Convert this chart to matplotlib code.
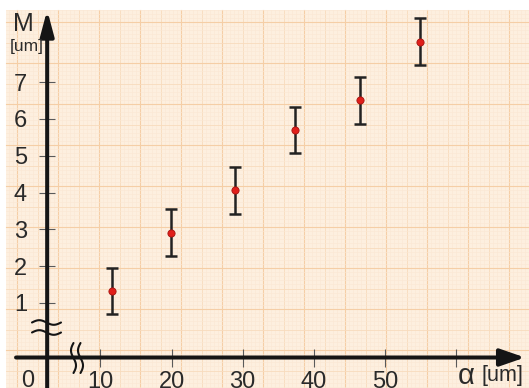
import numpy as np
import matplotlib
matplotlib.use("Agg")
import matplotlib.pyplot as plt

# ---- data ----
alpha_vals = [11.6, 19.9, 28.9, 37.3, 46.5, 54.9]
m_vals = [1.32, 2.91, 4.06, 5.70, 6.50, 8.10]
m_err = [0.63, 0.63, 0.63, 0.63, 0.63, 0.63]
x_ticks = [10, 20, 30, 40, 50, 60]
x_tick_labels = ["10", "20", "30", "40", "50", ""]
y_ticks = [1, 2, 3, 4, 5, 6, 7]
y_tick_labels = ["1", "2", "3", "4", "5", "6", "7"]

W, H = 529, 388
FONT = "Liberation Sans"
TXT = "#2a2a2a"
AX = "#151515"

fig = plt.figure(figsize=(W / 100, H / 100), dpi=100)
fig.patch.set_facecolor("white")

# ---- graph paper background (pixel coordinates) ----
bg = fig.add_axes([0, 0, 1, 1])
bg.set_xlim(0, W)
bg.set_ylim(H, 0)
bg.axis("off")
x0p, y0p = 5.5, 9.5
bg.add_patch(plt.Rectangle((x0p, y0p), W - x0p, H - y0p, facecolor="#fdefdf",
                           edgecolor="none", zorder=0))
step = 4.1


def line_style(k):
    if k % 10 == 0:
        return "#f5cea6", 0.8
    if k % 5 == 0:
        return "#f8dbbd", 0.6
    return "#fbe7d3", 0.4


ref_x = 427.0
for k in range(int(np.ceil((x0p - ref_x) / step)), int(np.floor((W - ref_x) / step)) + 1):
    xp = ref_x + k * step
    c, lw = line_style(k)
    bg.plot([xp, xp], [y0p, H], color=c, lw=lw, zorder=1)
ref_y = 227.0
for k in range(int(np.ceil((y0p - ref_y) / step)), int(np.floor((H - ref_y) / step)) + 1):
    yp = ref_y + k * step
    c, lw = line_style(k)
    bg.plot([x0p, W], [yp, yp], color=c, lw=lw, zorder=1)

# ---- main data axes ----
ax = fig.add_axes([0, 0, 1, 1])
ax.patch.set_alpha(0)
xlim = (-4.135, 70.27)
ylim = (-1.308, 9.227)
ax.set_xlim(*xlim)
ax.set_ylim(*ylim)
yaxis_x = 2.5
xaxis_y = -0.48
for s in ["top", "right"]:
    ax.spines[s].set_visible(False)
ax.spines["left"].set_position(("data", yaxis_x))
ax.spines["bottom"].set_position(("data", xaxis_y))
ax.spines["left"].set_color("none")
ax.spines["bottom"].set_color("none")

ax.set_xticks(x_ticks)
ax.set_xticklabels(x_tick_labels)
ax.set_yticks(y_ticks)
ax.set_yticklabels(y_tick_labels)
ax.tick_params(axis="y", direction="inout", length=12, width=0.8, color="#5a5a5a",
               pad=8.5, labelsize=17, labelcolor=TXT)
ax.tick_params(axis="x", direction="inout", length=13, width=0.8, color="#5a5a5a",
               pad=3.0, labelsize=17, labelcolor=TXT)
for lab in ax.get_xticklabels() + ax.get_yticklabels():
    lab.set_fontfamily(FONT)

# axis lines with arrows
ax.annotate("", xy=(yaxis_x, 8.955), xytext=(yaxis_x, ylim[0]),
            arrowprops=dict(arrowstyle="-|>,head_length=0.75,head_width=0.2",
                            lw=2.9, color=AX, shrinkA=0, shrinkB=0,
                            mutation_scale=20),
            annotation_clip=False, zorder=3)
ax.annotate("", xy=(69.70, xaxis_y), xytext=(-1.88, xaxis_y),
            arrowprops=dict(arrowstyle="-|>,head_length=0.75,head_width=0.26",
                            lw=2.9, color=AX, shrinkA=0, shrinkB=0,
                            mutation_scale=20),
            annotation_clip=False, zorder=3)

# error bars and points
ax.errorbar(alpha_vals, m_vals, yerr=m_err, fmt="none", ecolor="#222222",
            elinewidth=1.8, capsize=4.3, capthick=1.8, zorder=4)
ax.plot(alpha_vals, m_vals, linestyle="none", marker="o", markersize=5.2,
        markerfacecolor="#e11f1a", markeredgecolor="#a51410", markeredgewidth=0.6,
        zorder=5)

# ---- overlay: labels and axis break marks (pixel coordinates) ----
ov = fig.add_axes([0, 0, 1, 1])
ov.set_xlim(0, W)
ov.set_ylim(H, 0)
ov.axis("off")
ov.patch.set_alpha(0)

ov.text(23.6, 24, "M", fontsize=18, family=FONT, color=TXT, ha="center", va="center")
ov.text(26.5, 46, "[um]", fontsize=12.5, family=FONT, color=TXT, ha="center", va="center")
ov.text(466, 376, "α", fontsize=21, family=FONT, color=TXT, ha="center", va="center")
ov.text(502, 376, "[um]", fontsize=15.5, family=FONT, color=TXT, ha="center", va="center")
ov.text(28, 381, "0", fontsize=17, family=FONT, color=TXT, ha="center", va="center")

t = np.linspace(0, 1, 60)
for yc in (322.5, 332.5):
    xs = 32 + 29 * t
    ys = yc - 2.3 * np.sin(2 * np.pi * t)
    ov.plot(xs, ys, color=AX, lw=1.5, solid_capstyle="round")
for xc in (73.5, 80.5):
    ys = 343 + 30 * t
    xs = xc - 2.5 * np.sin(2 * np.pi * t)
    ov.plot(xs, ys, color=AX, lw=1.5, solid_capstyle="round")

fig.savefig("out.png", dpi=100)
